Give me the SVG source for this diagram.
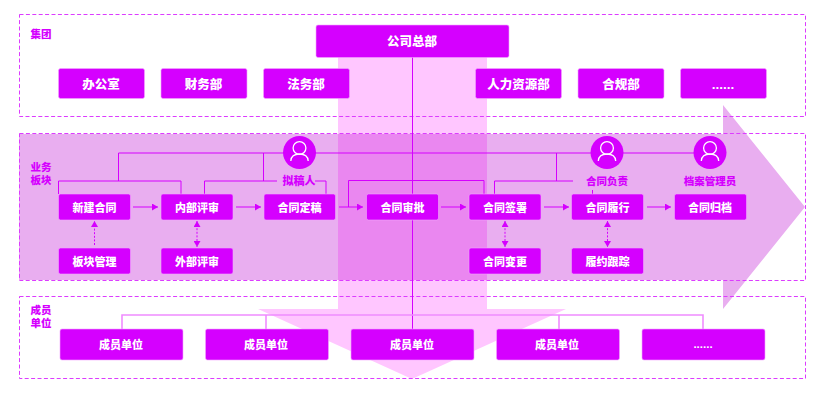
<svg xmlns="http://www.w3.org/2000/svg" width="826" height="403" viewBox="0 0 826 403">
<style>
text{font-family:"Noto Sans CJK SC","Noto Sans",sans-serif;font-weight:900;text-anchor:middle}
.b{fill:#d500ff;stroke:#f3a6ff;stroke-width:.6}
.t{fill:#fff;font-size:11px}
.d{fill:#fff;font-size:12.5px}
.l{fill:#d500ff;font-size:10.5px}
.z{fill:none;stroke:#dc3cff;stroke-width:1;stroke-dasharray:4 2.4}
.c{fill:none;stroke:#d500ff;stroke-width:1}
.m{fill:none;stroke:#f08cff;stroke-width:1.6}
.k{fill:none;stroke:#d500ff;stroke-width:1;stroke-dasharray:2 1.6}
.p{fill:none;stroke:#fff;stroke-width:1.3}
</style>
<defs>
<marker id="a" markerUnits="userSpaceOnUse" markerWidth="7" markerHeight="7" refX="6" refY="3.5" orient="auto-start-reverse"><path d="M0 0L6 3.5L0 7Z" fill="#d500ff"/></marker>
<g id="person"><circle cx="0" cy="-4.5" r="6.4" class="p"/><path d="M-8.7 8.5C-8.3 3-4.5 1.5 0 1.5S8.3 3 8.7 8.5" class="p"/></g>
</defs>
<g id="backdrop">
<path d="M19 134H723V105L805 207L723 309V280H19Z" fill="#e9aef0"/>
<path d="M338 57H487V309H566L412 379L258 309H338Z" fill="#ffc6ff"/>
<rect x="338" y="134" width="149" height="146" fill="#ea87f0"/>
</g>
<g id="zones">
<rect x="19.500" y="14.500" width="786" height="102" class="z"/>
<rect x="19.500" y="133.500" width="786" height="147" class="z"/>
<rect x="19.500" y="296.500" width="786" height="82" class="z"/>
<text x="41" y="38" class="l">集团</text>
<text class="l"><tspan x="41" y="171">业务</tspan><tspan x="41" y="184">板块</tspan></text>
<text class="l"><tspan x="41" y="314">成员</tspan><tspan x="41" y="327">单位</tspan></text>
</g>
<g id="connectors">
<path class="c" d="M412.500 57V329"/>
<path class="m" d="M122 329V315H703V329M266 315V329M559 315V329"/>
<path class="c" d="M118.500 153H694M118.500 153V181M58.500 194V181H181V194M263.500 153V181M204.500 194V181H277M315 181H326V194M348.500 207V180.500H484V194M494.500 194V181H573M556.500 153V181M592.500 190V194"/>
<path class="c" marker-end="url(#a)" d="M133 207H158"/>
<path class="c" marker-end="url(#a)" d="M236 207H261"/>
<path class="c" marker-end="url(#a)" d="M339 207H363"/>
<path class="c" marker-end="url(#a)" d="M441 207H466"/>
<path class="c" marker-end="url(#a)" d="M544 207H569"/>
<path class="c" marker-end="url(#a)" d="M647 207H671"/>
<path class="k" marker-end="url(#a)" d="M94.500 245V221"/>
<path class="k" marker-start="url(#a)" marker-end="url(#a)" d="M197 221V247"/>
<path class="k" marker-start="url(#a)" marker-end="url(#a)" d="M505 221V247"/>
<path class="k" marker-start="url(#a)" marker-end="url(#a)" d="M607.500 221V247"/>
</g>
<g id="hq"><rect class="b" x="316" y="25" width="193" height="32.500" rx="2"/><text x="412" y="46" class="d">公司总部</text></g>
<g id="d1"><rect class="b" x="58.500" y="68.500" width="86" height="30" rx="2"/><text x="101" y="89" class="d">办公室</text></g>
<g id="d2"><rect class="b" x="161" y="68.500" width="86" height="30" rx="2"/><text x="203.500" y="89" class="d">财务部</text></g>
<g id="d3"><rect class="b" x="263.500" y="68.500" width="86" height="30" rx="2"/><text x="306" y="89" class="d">法务部</text></g>
<g id="d4"><rect class="b" x="475.500" y="68.500" width="86" height="30" rx="2"/><text x="518.500" y="89" class="d">人力资源部</text></g>
<g id="d5"><rect class="b" x="578" y="68.500" width="86" height="30" rx="2"/><text x="621" y="89" class="d">合规部</text></g>
<g id="d6"><rect class="b" x="680.500" y="68.500" width="86" height="30" rx="2"/><text x="723" y="89" style="font-family:'Liberation Sans',sans-serif;font-size:13.500px" fill="#fff">......</text></g>
<g id="p1"><rect class="b" x="58.500" y="194" width="72" height="26" rx="2"/><text x="94.500" y="211.500" class="t">新建合同</text></g>
<g id="p2"><rect class="b" x="161" y="194" width="72" height="26" rx="2"/><text x="197" y="211.500" class="t">内部评审</text></g>
<g id="p3"><rect class="b" x="264" y="194" width="71.500" height="26" rx="2"/><text x="299.500" y="211.500" class="t">合同定稿</text></g>
<g id="p4"><rect class="b" x="366.500" y="194" width="72" height="26" rx="2"/><text x="402.500" y="211.500" class="t">合同审批</text></g>
<g id="p5"><rect class="b" x="469" y="194" width="72" height="26" rx="2"/><text x="505" y="211.500" class="t">合同签署</text></g>
<g id="p6"><rect class="b" x="571.500" y="194" width="72" height="26" rx="2"/><text x="607.500" y="211.500" class="t">合同履行</text></g>
<g id="p7"><rect class="b" x="674.500" y="194" width="72" height="26" rx="2"/><text x="710" y="211.500" class="t">合同归档</text></g>
<g id="s1"><rect class="b" x="58.500" y="248" width="72" height="26" rx="2"/><text x="94.500" y="265.500" class="t">板块管理</text></g>
<g id="s2"><rect class="b" x="161" y="248" width="72" height="26" rx="2"/><text x="197" y="265.500" class="t">外部评审</text></g>
<g id="s3"><rect class="b" x="469" y="248" width="72" height="26" rx="2"/><text x="505" y="265.500" class="t">合同变更</text></g>
<g id="s4"><rect class="b" x="571.500" y="248" width="72" height="26" rx="2"/><text x="607.500" y="265.500" class="t">履约跟踪</text></g>
<g id="r1"><circle cx="299.500" cy="152.500" r="16.500" fill="#d500ff"/><use href="#person" x="299.500" y="152.500"/><text x="299" y="185" class="l" style="font-size:11px">拟稿人</text></g>
<g id="r2"><circle cx="607" cy="152.500" r="16.500" fill="#d500ff"/><use href="#person" x="607" y="152.500"/><text x="607" y="185" class="l">合同负责</text></g>
<g id="r3"><circle cx="710" cy="152.500" r="16.500" fill="#d500ff"/><use href="#person" x="710" y="152.500"/><text x="710" y="185" class="l">档案管理员</text></g>
<g id="u1"><rect class="b" x="60" y="329" width="123" height="31" rx="2"/><text x="121" y="349" class="t">成员单位</text></g>
<g id="u2"><rect class="b" x="205.500" y="329" width="123" height="31" rx="2"/><text x="266" y="349" class="t">成员单位</text></g>
<g id="u3"><rect class="b" x="351" y="329" width="123" height="31" rx="2"/><text x="412" y="349" class="t">成员单位</text></g>
<g id="u4"><rect class="b" x="496.500" y="329" width="123" height="31" rx="2"/><text x="557" y="349" class="t">成员单位</text></g>
<g id="u5"><rect class="b" x="642" y="329" width="123" height="31" rx="2"/><text x="703" y="348" style="font-family:'Liberation Sans',sans-serif;font-size:11.500px" fill="#fff">......</text></g>
</svg>
